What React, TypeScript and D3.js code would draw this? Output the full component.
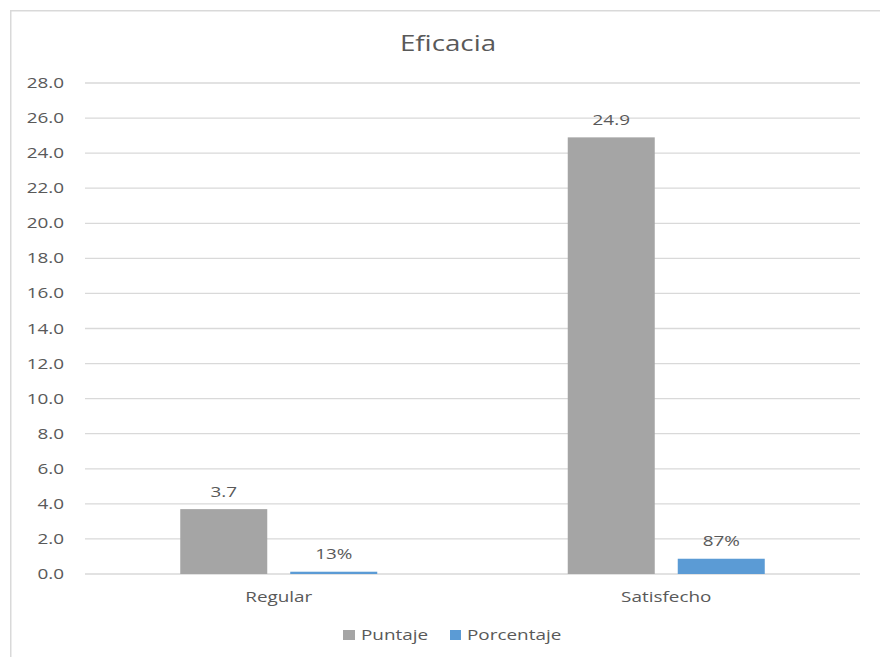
import React from "react";
import * as d3 from "d3";

const categories = ["Regular", "Satisfecho"];
const seriesNames = ["Puntaje", "Porcentaje"];
const puntaje = [3.7, 24.9];
const porcentaje = [0.13, 0.87];
const yTicks = [0, 2, 4, 6, 8, 10, 12, 14, 16, 18, 20, 22, 24, 26, 28];
const colors = ["#A5A5A5", "#5B9BD5"];

const W = 880;
const H = 657;
const SX = 1.26;
const FONT = "'Open Sans', sans-serif";
const TXT = "#595959";

function T({ x, y, anchor = "middle", size = 15, children }: any) {
  return (
    <text
      transform={`translate(${x},${y}) scale(${SX},1)`}
      textAnchor={anchor}
      fontSize={size}
      fontFamily={FONT}
      fill={TXT}
    >
      {children}
    </text>
  );
}

export default function App() {
  const y = d3.scaleLinear().domain([0, 28]).range([574, 83]);
  const p = 1 - 197 / 387.5;
  const x0 = d3
    .scaleBand<string>()
    .domain(categories)
    .range([85, 860])
    .paddingInner(p)
    .paddingOuter(p / 2);
  const x1 = d3
    .scaleBand<string>()
    .domain(seriesNames)
    .range([0, x0.bandwidth()])
    .paddingInner(0.209)
    .paddingOuter(0);

  const values = [puntaje, porcentaje];
  const fmt = [d3.format(".1f"), d3.format(".0%")];

  return (
    <svg
      width={W}
      height={H}
      style={{ position: "absolute", left: 0, top: 0, background: "#fff" }}
    >
      <rect x={0} y={0} width={W} height={H} fill="#fff" />
      <path d={`M10.75,${H + 5}V10.75H${W + 5}`} fill="none" stroke="#D9D9D9" strokeWidth={1.5} />
      <T x={448} y={51} size={22}>Eficacia</T>
      {yTicks.map((t) => (
        <g key={t}>
          <line x1={85} x2={860} y1={y(t)} y2={y(t)} stroke="#D9D9D9" strokeWidth={1.3} />
          <T x={64} y={y(t) + 5} anchor="end" size={15}>{d3.format(".1f")(t)}</T>
        </g>
      ))}
      {categories.map((c, ci) => (
        <g key={c}>
          {seriesNames.map((s, si) => {
            const v = values[si][ci];
            const bx = (x0(c) as number) + (x1(s) as number);
            const top = y(v);
            return (
              <g key={s}>
                <rect x={bx} y={top} width={x1.bandwidth()} height={y(0) - top} fill={colors[si]} />
                <T x={bx + x1.bandwidth() / 2} y={top - 12.5} size={15}>{fmt[si](v)}</T>
              </g>
            );
          })}
          <T x={(x0(c) as number) + x0.bandwidth() / 2} y={602} size={15}>{c}</T>
        </g>
      ))}
      <g>
        <rect x={343} y={630} width={12} height={10} fill={colors[0]} />
        <T x={361} y={640} anchor="start" size={15}>{seriesNames[0]}</T>
        <rect x={450} y={630} width={11} height={10} fill={colors[1]} />
        <T x={467} y={640} anchor="start" size={15}>{seriesNames[1]}</T>
      </g>
    </svg>
  );
}
